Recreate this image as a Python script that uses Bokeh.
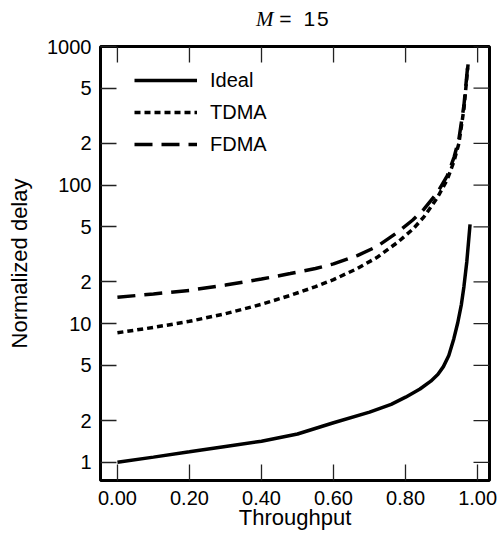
from bokeh.plotting import figure
from bokeh.layouts import column
from bokeh.models import Range1d, FixedTicker, Legend, LegendItem, Div
from bokeh.embed import file_html
from bokeh.resources import INLINE
import math

# ---- data ----
thr_ideal = [0.00, 0.10, 0.20, 0.30, 0.40, 0.50, 0.60, 0.70, 0.76, 0.80, 0.84,
             0.87, 0.89, 0.905, 0.92, 0.934, 0.945, 0.955, 0.962, 0.970, 0.979]
delay_ideal = [1.00, 1.09, 1.19, 1.30, 1.42, 1.60, 1.93, 2.30, 2.62, 2.95, 3.38,
               3.85, 4.32, 4.90, 5.90, 7.80, 10.2, 13.8, 18.5, 28.0, 52.0]

thr_multi = [0.00, 0.10, 0.20, 0.30, 0.40, 0.48, 0.55, 0.60, 0.666, 0.72, 0.777,
             0.82, 0.851, 0.888, 0.916, 0.935, 0.948, 0.962, 0.974]
delay_tdma = [8.6, 9.4, 10.4, 11.8, 13.8, 16.0, 18.5, 20.8, 25.0, 30.0, 38.5,
              48.0, 59.0, 81.0, 110.0, 150.0, 200.0, 355.0, 770.0]
delay_fdma = [15.5, 16.4, 17.4, 19.0, 21.0, 23.0, 25.0, 27.0, 31.0, 36.0, 45.5,
              56.0, 67.0, 88.0, 117.0, 160.0, 214.0, 376.0, 795.0]

series_labels = ["Ideal", "TDMA", "FDMA"]
x_ticks = [0.0, 0.2, 0.4, 0.6, 0.8, 1.0]
x_tick_labels = ["0.00", "0.20", "0.40", "0.60", "0.80", "1.00"]
y_ticks = [1, 2, 5, 10, 20, 50, 100, 200, 500, 1000]
y_tick_labels = ["1", "2", "5", "10", "2", "5", "100", "2", "5", "1000"]
title_var = "M"
title_rest = "="
title_num = "15"
x_title = "Throughput"
y_title = "Normalized delay"

FONT = "Liberation Sans"
X0, X1 = -0.047, 1.033
Y0, Y1 = 0.739, 1000.0
FW, FH = 389, 434
TICK = 16
DIV_H = 28

p = figure(width=500, height=540 - DIV_H,
           x_range=Range1d(X0, X1), y_range=Range1d(Y0, Y1),
           y_axis_type="log", output_backend="svg", toolbar_location=None,
           min_border_left=100, min_border_right=11, min_border_top=46 - DIV_H,
           min_border_bottom=60, margin=0)

p.grid.visible = False
p.outline_line_color = "black"
p.outline_line_width = 3
p.background_fill_color = "white"
p.border_fill_color = "white"

xa = p.xaxis[0]
xa.ticker = FixedTicker(ticks=x_ticks)
xa.major_label_overrides = {t: l for t, l in zip(x_ticks, x_tick_labels)}
xa.axis_label = x_title

ya = p.yaxis[0]
ya.ticker = FixedTicker(ticks=y_ticks)
ya.major_label_overrides = {t: l for t, l in zip(y_ticks, y_tick_labels)}
ya.axis_label = y_title

for ax in (xa, ya):
    ax.axis_line_color = None
    ax.major_tick_in = TICK
    ax.major_tick_out = 0
    ax.minor_tick_line_color = None
    ax.major_tick_line_color = "#222222"
    ax.major_tick_line_width = 1.3
    ax.major_label_text_font = FONT
    ax.major_label_text_font_size = "20px"
    ax.major_label_text_color = "black"
    ax.axis_label_text_font = FONT
    ax.axis_label_text_font_size = "22px"
    ax.axis_label_text_font_style = "normal"
    ax.axis_label_text_color = "black"
xa.major_label_standoff = 10
xa.axis_label_standoff = -3
ya.major_label_standoff = 9
ya.axis_label_standoff = 12

# mirrored inward ticks on top and right edges (tick length in pixels -> data)
dec_per_px = (math.log10(Y1) - math.log10(Y0)) / FH
top_y1 = Y1 / 10 ** (TICK * dec_per_px)
p.segment(x0=x_ticks, y0=[Y1] * len(x_ticks), x1=x_ticks, y1=[top_y1] * len(x_ticks),
          line_color="#222222", line_width=1.3)
right_x0 = X1 - TICK * (X1 - X0) / FW
p.segment(x0=[X1] * len(y_ticks), y0=y_ticks, x1=[right_x0] * len(y_ticks), y1=y_ticks,
          line_color="#222222", line_width=1.3)

# curves
r_ideal = p.line(thr_ideal, delay_ideal, line_color="black", line_width=3.5)
r_tdma = p.line(thr_multi, delay_tdma, line_color="black", line_width=3.5,
                line_dash="6 4")
r_fdma = p.line(thr_multi, delay_fdma, line_color="black", line_width=3.5,
                line_dash="18 9")

legend = Legend(items=[LegendItem(label=series_labels[0], renderers=[r_ideal]),
                       LegendItem(label=series_labels[1], renderers=[r_tdma]),
                       LegendItem(label=series_labels[2], renderers=[r_fdma])],
                location=(34, 320), border_line_color=None,
                background_fill_alpha=0, padding=0, margin=0, spacing=0,
                glyph_width=63, glyph_height=32, label_height=32,
                label_standoff=13, label_text_font=FONT,
                label_text_font_size="20px", label_text_color="black")
p.add_layout(legend)

title_html = (
    '<div style="font-family:\'Liberation Sans\'; font-size:21px; line-height:24px;'
    ' white-space:nowrap; padding-left:256px; padding-top:7px; color:black;">'
    '<i style="font-family:\'Liberation Serif\';">%s</i> %s '
    '<span style="padding-left:6px; letter-spacing:2px;">%s</span></div>'
) % (title_var, title_rest, title_num)
title_div = Div(text=title_html, width=500, height=DIV_H, margin=0)

layout = column(title_div, p, spacing=0)

open("out.html", "w").write(file_html(layout, INLINE))
